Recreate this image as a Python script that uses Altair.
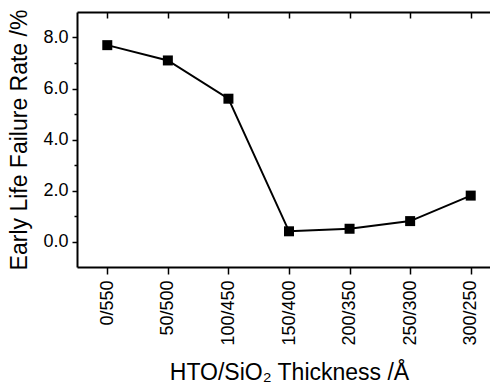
import altair as alt
import pandas as pd

categories = ["0/550", "50/500", "100/450", "150/400", "200/350", "250/300", "300/250"]
failure_rate = [7.7, 7.1, 5.6, 0.4, 0.5, 0.8, 1.8]
major_ticks = [0, 2, 4, 6, 8]
minor_ticks = [1, 3, 5, 7]

df = pd.DataFrame({"thickness": categories, "rate": failure_rate})

FONT = "Liberation Sans"
xscale = alt.Scale(type="point", padding=0.5, domain=categories)
yscale = alt.Scale(domain=[-1, 9], nice=False, zero=False)

base = alt.Chart(df)

# bottom axis + left axis (with frame lines as domains)
line = base.mark_line(color="black", strokeWidth=2).encode(
    x=alt.X("thickness:N", scale=xscale, sort=categories,
            axis=alt.Axis(orient="bottom", title="HTO/SiO\u2082 Thickness /\u00c5",
                          domain=True, labelAngle=270, tickSize=7, labelPadding=6,
                          labelFontSize=18, titleFontSize=23, titlePadding=16)),
    y=alt.Y("rate:Q", scale=yscale,
            axis=alt.Axis(orient="left", title="Early Life Failure Rate /%", domain=True,
                          values=sorted(major_ticks + minor_ticks),
                          labelExpr="datum.value % 2 === 0 ? format(datum.value, '.1f') : ''",
                          tickSize={"condition": {"test": "datum.value % 2 === 1", "value": 3}, "value": 5},
                          labelPadding=4, labelFontSize=18, titleFontSize=23, titlePadding=11)),
)

# top inward ticks + right inward major ticks
points = base.mark_point(shape="square", filled=True, size=100, color="black", opacity=1).encode(
    x=alt.X("thickness:N", scale=xscale, sort=categories,
            axis=alt.Axis(orient="top", title=None, labels=False, tickSize=6, offset=-6)),
    y=alt.Y("rate:Q", scale=yscale,
            axis=alt.Axis(orient="right", title=None, labels=False, values=major_ticks,
                          tickSize=6, offset=-6)),
)

# top frame line + right inward minor ticks
frame = base.mark_point(opacity=0).encode(
    x=alt.X("thickness:N", scale=xscale, sort=categories,
            axis=alt.Axis(orient="top", title=None, labels=False, ticks=False, domain=True)),
    y=alt.Y("rate:Q", scale=yscale,
            axis=alt.Axis(orient="right", title=None, labels=False, values=minor_ticks,
                          tickSize=3, offset=-3)),
)

chart = alt.layer(line, points, frame).resolve_axis(
    x="independent", y="independent"
).properties(
    width=424, height=255,
    autosize=alt.AutoSizeParams(type="none"),
    padding={"left": 69, "top": 4, "right": -11, "bottom": 118},
).configure_view(
    stroke=None
).configure_axis(
    grid=False, domain=False, labelFont=FONT, titleFont=FONT,
    labelColor="black", titleColor="black", tickColor="black",
    domainColor="black", domainWidth=2,
    tickWidth=1.5, titleFontWeight="normal"
)

chart.save("out.html", embed_options={"renderer": "svg", "actions": False})
